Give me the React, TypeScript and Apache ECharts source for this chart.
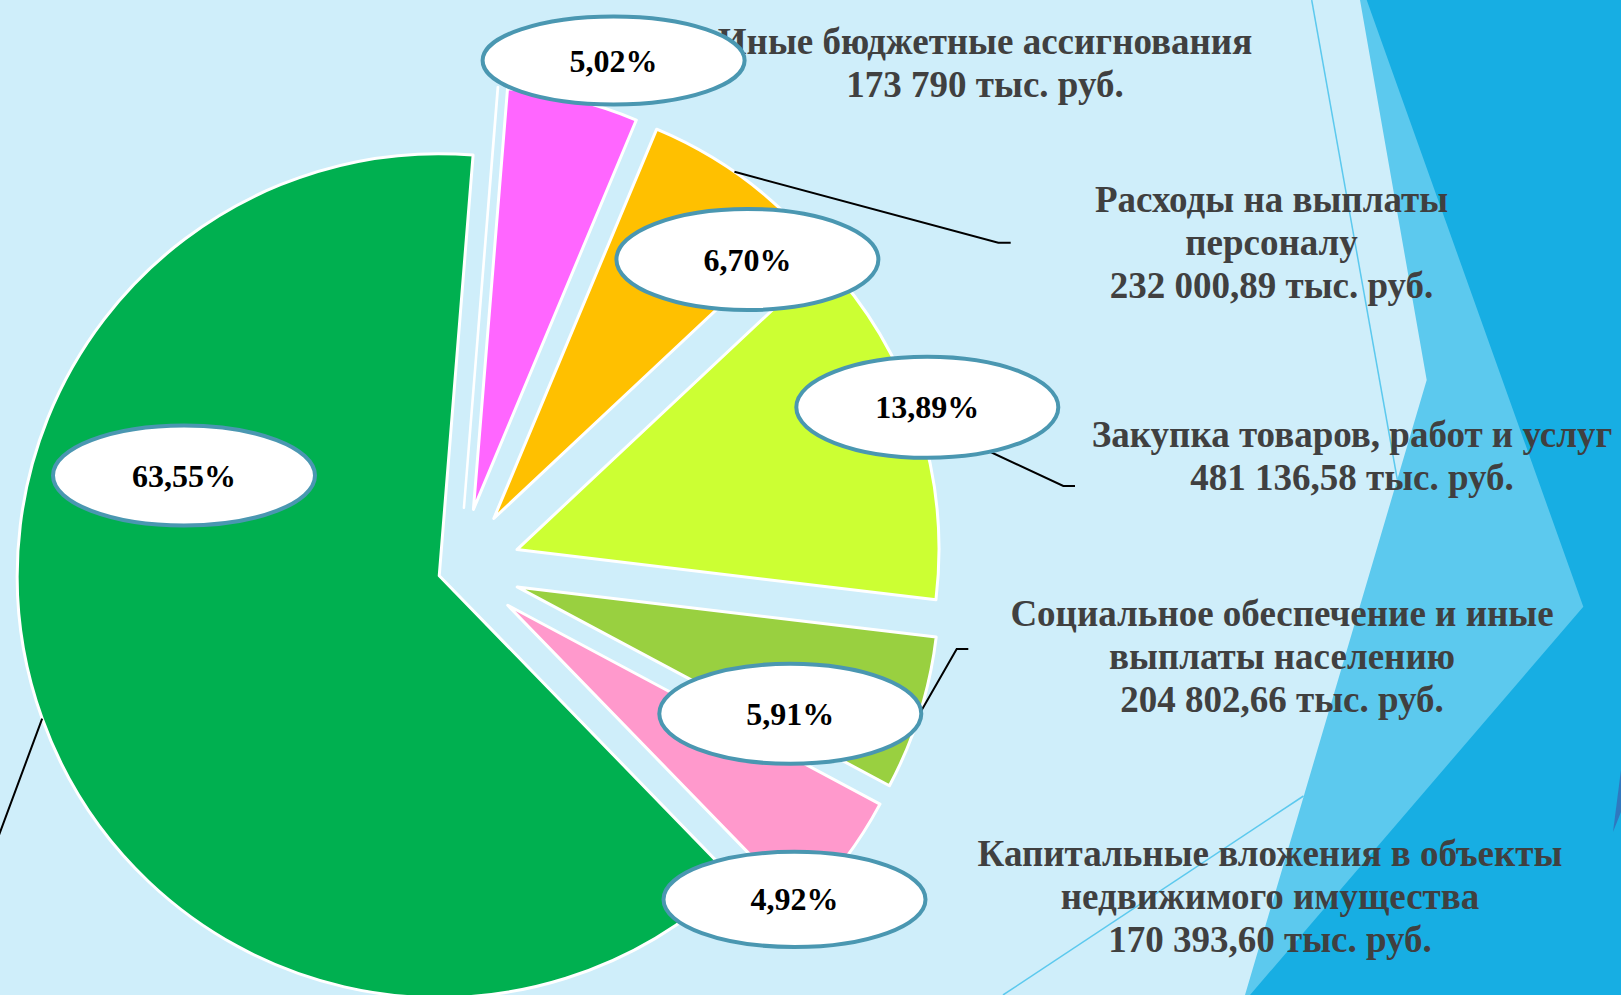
import React, { useEffect, useRef } from "react";
import * as echarts from "echarts";

// ---------------- data ----------------
const sliceNames = [
  "Прочие",
  "Иные бюджетные ассигнования",
  "Расходы на выплаты персоналу",
  "Закупка товаров, работ и услуг",
  "Социальное обеспечение и иные выплаты населению",
  "Капитальные вложения в объекты недвижимого имущества",
  "Прочие расходы",
];
// share of total, %
const sharePercents = [0.01, 5.02, 6.7, 13.89, 5.91, 4.92, 63.55];
// amounts, thousand rubles
const amountsThousandRub = [null, 173790, 232000.89, 481136.58, 204802.66, 170393.6, null];
// label text lines (as wrapped on the slide)
const labelLines: (string[] | null)[] = [
  null,
  ["Иные бюджетные ассигнования"],
  ["Расходы на выплаты", "персоналу"],
  ["Закупка товаров, работ и услуг"],
  ["Социальное обеспечение и иные", "выплаты населению"],
  ["Капитальные вложения в объекты", "недвижимого имущества"],
  null,
];
const showPercent = [false, true, true, true, true, true, true];

// ---------------- layout / style ----------------
const sliceColors = ["#FFFFFF", "#FF66FF", "#FFC000", "#CCFF33", "#99D040", "#FF99CC", "#00B050"];
const explode = [61, 61, 61, 61, 61, 61, 21];
const PIE = { cx: 459, cy: 568.6, r: 422, startCW: 4.6 };
// ellipse label boxes: [cx, cy, rx, ry]
const ellipseBoxes: (number[] | null)[] = [
  null,
  [613.6, 60.5, 131, 44],
  [747.4, 259.5, 131, 50.5],
  [927.3, 407.3, 131, 50.5],
  [790.3, 713.8, 131, 50],
  [794.5, 899.4, 131, 47.6],
  [184, 475.5, 131, 50],
];
// category label anchors (block centre)
const nameAnchors: (number[] | null)[] = [
  null,
  [985, 63],
  [1271.5, 242.5],
  [1352, 455.8],
  [1282, 656],
  [1270, 896],
  null,
];
// leader line elbows: [elbowX, elbowY, endX]
const leaderElbows: (number[] | null)[] = [
  null,
  null,
  [998.3, 242.7, 1010.7],
  [1063.3, 486, 1075],
  [956.7, 649, 968.3],
  null,
  [-25, 900, -40],
];

function fmtAmount(v: number) {
  const isInt = Number.isInteger(v);
  const [ip, dp] = v.toFixed(isInt ? 0 : 2).split(".");
  const grouped = ip.replace(/\B(?=(\d{3})+(?!\d))/g, " ");
  return (dp ? grouped + "," + dp : grouped) + " тыс. руб.";
}
function fmtPercent(v: number) {
  return v.toFixed(2).replace(".", ",") + "%";
}
const dir = (deg: number) => [Math.sin((deg * Math.PI) / 180), -Math.cos((deg * Math.PI) / 180)];

export default function App() {
  const ref = useRef<HTMLDivElement>(null);
  useEffect(() => {
    if (!ref.current) return;
    document.body.style.margin = "0";
    document.body.style.overflow = "hidden";
    const chart = echarts.init(ref.current, undefined, { renderer: "svg" });
    const total = sharePercents.reduce((a, b) => a + b, 0);
    let acc = 0;
    const midCW = sharePercents.map((v) => {
      const m = PIE.startCW + ((acc + v / 2) / total) * 360;
      acc += v;
      return m;
    });

    const series: any[] = sharePercents.map((_, i) => {
      const [dx, dy] = dir(midCW[i]);
      return {
        type: "pie",
        z: 5,
        silent: true,
        radius: PIE.r,
        center: [PIE.cx + explode[i] * dx, PIE.cy + explode[i] * dy],
        startAngle: 90 - PIE.startCW,
        clockwise: true,
        label: { show: false },
        labelLine: { show: false },
        emphasis: { disabled: true },
        data: sharePercents.map((v, j) => ({
          name: sliceNames[j],
          value: v,
          itemStyle:
            j === i
              ? { color: sliceColors[i], borderColor: "#FFFFFF", borderWidth: i === 0 ? 2.5 : 3 }
              : { color: "rgba(0,0,0,0)", borderWidth: 0 },
        })),
      };
    });

    const elements: any[] = [
      // background decoration
      {
        type: "polygon", z: 0,
        shape: { points: [[1360, 0], [1621, 0], [1621, 995], [1245, 995], [1426.7, 380]] },
        style: { fill: "#5CC9EE" },
      },
      {
        type: "polygon", z: 1,
        shape: { points: [[1366.7, 0], [1621, 0], [1621, 995], [1250, 995], [1583.3, 606.7]] },
        style: { fill: "#17AEE3" },
      },
      {
        type: "polygon", z: 1,
        shape: { points: [[1621, 770], [1613, 832], [1621, 812]] },
        style: { fill: "#2F78BF" },
      },
      { type: "line", z: 1, shape: { x1: 1311.7, y1: 0, x2: 1397.3, y2: 479.5 }, style: { stroke: "#5CC9EE", lineWidth: 1.5 } },
      { type: "line", z: 1, shape: { x1: 1303.5, y1: 796, x2: 1003, y2: 995 }, style: { stroke: "#5CC9EE", lineWidth: 1.5 } },
    ];

    sharePercents.forEach((v, i) => {
      const [dx, dy] = dir(midCW[i]);
      const el = leaderElbows[i];
      if (el) {
        const sx = PIE.cx + (explode[i] + PIE.r) * dx;
        const sy = PIE.cy + (explode[i] + PIE.r) * dy;
        elements.push({
          type: "polyline", z: 20,
          shape: { points: [[sx, sy], [el[0], el[1]], [el[2], el[1]]] },
          style: { stroke: "#000000", lineWidth: 2, fill: null },
        });
      }
      const na = nameAnchors[i];
      const lines = labelLines[i];
      const amt = amountsThousandRub[i];
      if (na && lines && amt != null) {
        elements.push({
          type: "text", z: 30, x: na[0], y: na[1],
          style: {
            text: [...lines, fmtAmount(amt)].join("\n"),
            fill: "#404040",
            fontFamily: '"Liberation Serif", "Times New Roman", serif',
            fontWeight: "bold",
            fontSize: 37,
            lineHeight: 43,
            textAlign: "center",
            textVerticalAlign: "middle",
            align: "center",
            verticalAlign: "middle",
          },
        });
      }
      const eb = ellipseBoxes[i];
      if (eb && showPercent[i]) {
        elements.push({
          type: "ellipse", z: 40,
          shape: { cx: eb[0], cy: eb[1], rx: eb[2], ry: eb[3] },
          style: { fill: "#FFFFFF", stroke: "#4A97B1", lineWidth: 4 },
        });
        elements.push({
          type: "text", z: 50, x: eb[0], y: eb[1],
          style: {
            text: fmtPercent(v),
            fill: "#000000",
            fontFamily: '"Liberation Serif", "Times New Roman", serif',
            fontWeight: "bold",
            fontSize: 32,
            textAlign: "center",
            textVerticalAlign: "middle",
            align: "center",
            verticalAlign: "middle",
          },
        });
      }
    });

    chart.setOption({
      animation: false,
      backgroundColor: "#CFEEFA",
      tooltip: { show: false },
      series,
      graphic: { elements },
    });
    return () => chart.dispose();
  }, []);
  return <div ref={ref} style={{ width: 1621, height: 995 }} />;
}
